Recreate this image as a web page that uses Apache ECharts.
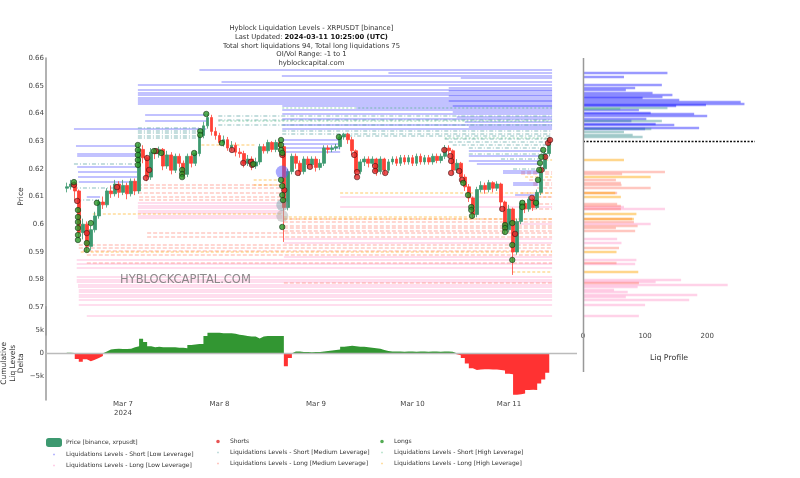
<!DOCTYPE html>
<html><head><meta charset="utf-8">
<script src="https://cdn.jsdelivr.net/npm/echarts@6/dist/echarts.min.js"></script>
<style>html,body{margin:0;padding:0;background:#fff}#c{width:800px;height:478px}</style>
</head><body><div id="c"></div>
<script>
// x values are hours since 2024-03-06 10:00 UTC
const xTickHours = [14, 38, 62, 86, 110];
const xTickLabels = ['Mar 7\n2024', 'Mar 8', 'Mar 9', 'Mar 10', 'Mar 11'];
const profileTicks = [0, 100, 200];

const firstOpen = 0.6130;
const priceClose = [0.6135,0.6145,0.6120,0.5970,0.6000,0.5920,0.5980,0.6030,0.6080,0.6070,
0.6120,0.6110,0.6145,0.6115,0.6140,0.6110,0.6155,0.6120,0.6270,0.6240,
0.6170,0.6260,0.6255,0.6270,0.6210,0.6250,0.6195,0.6245,0.6220,0.6180,
0.6245,0.6220,0.6255,0.6320,0.6355,0.6385,0.6335,0.6320,0.6295,0.6305,
0.6275,0.6285,0.6260,0.6255,0.6220,0.6235,0.6210,0.6225,0.6280,0.6265,
0.6295,0.6270,0.6295,0.6280,0.6060,0.6190,0.6245,0.6220,0.6190,0.6235,
0.6215,0.6235,0.6205,0.6220,0.6275,0.6270,0.6275,0.6280,0.6315,0.6325,
0.6305,0.6265,0.6190,0.6225,0.6235,0.6220,0.6235,0.6190,0.6235,0.6195,
0.6225,0.6235,0.6220,0.6240,0.6225,0.6240,0.6220,0.6245,0.6225,0.6240,
0.6225,0.6245,0.6230,0.6245,0.6275,0.6265,0.6195,0.6220,0.6170,0.6135,
0.6095,0.6035,0.6125,0.6140,0.6125,0.6150,0.6130,0.6145,0.6080,0.5980,
0.6055,0.5900,0.6010,0.6075,0.6055,0.6090,0.6060,0.6115,0.6200,0.6255,
0.6310];
const priceLow = [0.6115,0.6125,0.6085,0.5950,0.5945,0.5900,0.5905,0.5970,0.6020,0.6055,
0.6060,0.6095,0.6100,0.6095,0.6105,0.6090,0.6100,0.6105,0.6110,0.6220,
0.6155,0.6160,0.6235,0.6240,0.6195,0.6200,0.6180,0.6185,0.6205,0.6165,
0.6170,0.6205,0.6210,0.6245,0.6310,0.6345,0.6320,0.6305,0.6285,0.6280,
0.6265,0.6265,0.6245,0.6240,0.6205,0.6210,0.6195,0.6200,0.6215,0.6255,
0.6255,0.6260,0.6260,0.6265,0.5936,0.6050,0.6180,0.6200,0.6175,0.6180,
0.6200,0.6205,0.6190,0.6195,0.6210,0.6255,0.6260,0.6265,0.6270,0.6305,
0.6290,0.6250,0.6170,0.6180,0.6210,0.6205,0.6210,0.6175,0.6180,0.6180,
0.6185,0.6215,0.6210,0.6210,0.6215,0.6215,0.6210,0.6210,0.6215,0.6215,
0.6215,0.6215,0.6220,0.6220,0.6235,0.6250,0.6180,0.6185,0.6155,0.6120,
0.6080,0.6020,0.6025,0.6115,0.6110,0.6115,0.6115,0.6120,0.6050,0.5965,
0.5970,0.5817,0.5890,0.6000,0.6040,0.6045,0.6048,0.6055,0.6105,0.6190,
0.6245];
const priceHigh = [0.6150,0.6160,0.6155,0.6125,0.6020,0.6010,0.5995,0.6045,0.6090,0.6100,
0.6130,0.6140,0.6160,0.6155,0.6160,0.6150,0.6165,0.6165,0.6290,0.6285,
0.6250,0.6275,0.6275,0.6280,0.6275,0.6265,0.6260,0.6255,0.6255,0.6230,
0.6255,0.6255,0.6265,0.6335,0.6370,0.6398,0.6395,0.6350,0.6330,0.6320,
0.6315,0.6300,0.6295,0.6275,0.6265,0.6250,0.6245,0.6240,0.6290,0.6290,
0.6305,0.6300,0.6305,0.6305,0.6285,0.6200,0.6255,0.6255,0.6230,0.6245,
0.6245,0.6245,0.6245,0.6235,0.6285,0.6285,0.6285,0.6290,0.6325,0.6330,
0.6330,0.6315,0.6270,0.6235,0.6245,0.6245,0.6245,0.6240,0.6245,0.6240,
0.6235,0.6245,0.6245,0.6250,0.6250,0.6250,0.6250,0.6255,0.6255,0.6250,
0.6250,0.6255,0.6255,0.6255,0.6286,0.6285,0.6270,0.6235,0.6225,0.6180,
0.6145,0.6100,0.6135,0.6155,0.6150,0.6160,0.6155,0.6155,0.6150,0.6085,
0.6070,0.6060,0.6020,0.6085,0.6085,0.6100,0.6095,0.6125,0.6210,0.6265,
0.6315];

const shortsPoints = [[1.8,0.6142],[2.6,0.6084],[5.0,0.5968],[12.5,0.6134],[19.7,0.6167],[20.0,0.6239],[20.5,0.6196],[22.2,0.6264],
[41.1,0.6268],[43.9,0.6221],[45.8,0.6225],[46.1,0.6214],[53.6,0.6250],[54.1,0.6123],[57.5,0.6185],[60.5,0.6207],
[71.5,0.6250],[72.2,0.6188],[72.2,0.6170],[76.7,0.6210],[76.7,0.6192],[79.2,0.6185],[93.9,0.6268],[95.4,0.6246],
[95.6,0.6228],[95.6,0.6185],[97.6,0.6192],[98.3,0.6160],[108.3,0.6055],[111.5,0.5965],[115.7,0.6095],[118.0,0.6196],
[119.0,0.6243],[119.7,0.6293],[120.2,0.6304]];
const longsPoints = [[1.8,0.6152],[2.8,0.6051],[2.8,0.6026],[2.8,0.6008],[2.8,0.5986],[2.8,0.5961],[2.8,0.5943],[5.0,0.5932],[5.0,0.5907],
[6.0,0.6004],[7.5,0.6077],[17.7,0.6286],[17.7,0.6268],[17.7,0.6250],[17.7,0.6232],[17.7,0.6214],[21.7,0.6264],[23.5,0.6257],
[28.7,0.6196],[28.7,0.6181],[28.7,0.6170],[31.7,0.6257],[33.2,0.6336],[33.2,0.6322],[34.7,0.6398],[38.6,0.6293],[46.4,0.6217],
[53.3,0.6304],[53.3,0.6286],[53.3,0.6268],[53.6,0.6257],[53.3,0.6160],[53.6,0.6138],[53.6,0.6105],[53.8,0.6087],[53.6,0.5990],
[67.7,0.6315],[98.6,0.6149],[99.8,0.6105],[100.6,0.6062],[100.6,0.6051],[100.8,0.6030],[109.0,0.5997],[109.0,0.5986],[109.0,0.5972],
[110.8,0.6004],[110.8,0.5925],[110.8,0.5871],[113.3,0.6077],[113.3,0.6062],[116.7,0.6077],[117.2,0.6160],[117.5,0.6196],
[117.7,0.6221],[118.0,0.6243],[118.5,0.6268]];
const bigEvents = [[53.6,0.6188],[53.6,0.6069],[53.6,0.6030]];

// liquidation levels: [startHour, endHour, price]
const shortLowLevels = [[1.8,34.7,0.6344],[2.3,17.5,0.6282],[2.6,17.5,0.6253],[2.6,17.5,0.6246],[2.6,17.5,0.6207],[2.8,17.5,0.6188],
[2.8,17.5,0.6170],[3.0,17.5,0.6152],[5.0,8.3,0.6098],
[17.7,120.7,0.6503],[17.7,120.7,0.6485],[17.7,120.7,0.6474],[17.7,120.7,0.6466],[17.7,120.7,0.6458],[17.7,120.7,0.6450],
[17.7,120.7,0.6442],[17.7,120.7,0.6434],[19.5,34.7,0.6394],[19.5,34.7,0.6372],
[33,120.7,0.6557],[38.5,120.7,0.6514],[53.5,120.7,0.6535],[80,120.7,0.6546],[98,120.7,0.6528],
[53.6,120.7,0.6426],[53.6,120.7,0.6413],[53.6,120.7,0.6400],[53.6,120.7,0.6380],[53.6,120.7,0.6360],[53.6,120.7,0.6345],
[53.6,68,0.6305],[53.6,68,0.6290],[53.6,68,0.6275],[53.6,68,0.6262],
[72,120.7,0.6420],[95,120.7,0.6492],[95,120.7,0.6480],[95,120.7,0.6462],[95,120.7,0.6445],[96,120.7,0.6428],
[96,120.7,0.6405],[97,120.7,0.6387],[99,120.7,0.6370],[100,120.7,0.6352],
[100,118.5,0.6264],[100,118.5,0.6248],[100,118,0.6228],[102,118,0.6217],[108.5,117.5,0.6192],[108.5,117.5,0.6185],
[111,117.3,0.6150],[111,117.3,0.6143],[111.5,117,0.6105]];
const shortMediumLevels = [[1.8,17.5,0.6220],[1.8,17.5,0.6131],[2.6,7.5,0.6087],
[17.7,33,0.6347],[17.7,33,0.6338],[17.7,33.2,0.6329],[17.7,33.2,0.6320],[17.7,33.2,0.6311],
[37.7,120.7,0.6391],[37.7,120.7,0.6376],[37.7,120.7,0.6358],[53.6,120.7,0.6336],[53.6,120.7,0.6325],
[70,120.7,0.6318],[94,120.7,0.6307],[95,120.7,0.6298],[96,120.7,0.6286],[100,118.5,0.6275],[100,118.5,0.6255],
[108,118,0.6235],[111,117.5,0.6200]];
const shortHighLevels = [[53.6,120.7,0.6422],[37.7,120.7,0.6374],[94,120.7,0.6313]];
const longLowLevels = [[2.5,120.7,0.5871],[2.5,120.7,0.5856],[2.5,120.7,0.5842],[2.5,120.7,0.5809],[2.5,120.7,0.5801],
[2.5,120.7,0.5794],[2.8,120.7,0.5783],[2.8,120.7,0.5774],[3.0,120.7,0.5765],[3.0,120.7,0.5755],[3.0,120.7,0.5747],
[3.0,120.7,0.5738],[3.0,120.7,0.5726],[3.0,120.7,0.5709],[5.0,120.7,0.5671],
[17.7,53.6,0.6077],[17.7,53.6,0.6068],[17.7,53.6,0.6058],[17.7,53.6,0.6049],[17.7,53.6,0.6040],[17.7,53.6,0.6031],[17.7,53.6,0.6022],
[54,120.7,0.5946],[54,120.7,0.5933],[54,120.7,0.5882],[68,120.7,0.6100],[68,120.7,0.6063],[110.8,120.7,0.6003]];
const longMediumLevels = [[3.0,120.7,0.5925],[3.0,120.7,0.5914],[4.0,120.7,0.5903],[5.0,120.7,0.5890],[5.0,120.7,0.5862],
[17.7,53.6,0.6142],[17.7,53.6,0.6130],[17.7,53.6,0.6114],[18,53.6,0.6098],[18,53.6,0.6087],
[20,120.7,0.5968],[20,120.7,0.5954],[54,120.7,0.6018],[54,120.7,0.6009],[54,120.7,0.5994],[54,120.7,0.5987],
[54,120.7,0.5977],[54,120.7,0.5790],[113,120.7,0.6190],[113,120.7,0.6181],[115,120.7,0.6160],[116,120.7,0.6150],
[116,120.7,0.6142],[117,120.7,0.6130],[113,120.7,0.6114],[113,120.7,0.6073],[113,120.7,0.6057]];
const longHighLevels = [[3.5,120.7,0.5902],[6.5,53.6,0.6037],[33.5,47,0.6286],[46.5,53.6,0.6160],[46.5,53.6,0.6142],
[54,100.3,0.6026],[54,120.7,0.6019],[68,120.7,0.6112],[110.8,120.7,0.5830],[114,120.7,0.6172],[116,120.7,0.6100],[119,120.7,0.6234]];

// liq profile: [price, count]
const profileShortLow = [[0.6547,136],[0.6532,66],[0.6503,127],[0.6494,84],[0.6487,69],[0.6475,112],[0.6469,144],[0.6460,128],
[0.6455,96],[0.6448,155],[0.6442,254],[0.6436,260],[0.6430,198],[0.6426,150],[0.6415,90],[0.6403,109],[0.6398,179],[0.6391,200],
[0.6381,102],[0.6374,78],[0.6364,117],[0.6358,147],[0.6350,187],[0.6343,100]];
const profileShortMedium = [[0.6422,136],[0.6375,127],[0.6345,110],[0.6334,66],[0.6322,80],[0.6314,96]];
const profileShortHigh = [[0.6418,60]];
const profileLongLow = [[0.6063,66],[0.6056,132],[0.6003,109],[0.5946,55],[0.5933,62],[0.5871,86],[0.5856,84],[0.5801,158],
[0.5794,117],[0.5783,233],[0.5774,88],[0.5765,50],[0.5755,72],[0.5747,184],[0.5738,69],[0.5726,171],[0.5709,100],[0.5671,90]];
const profileLongMedium = [[0.6190,132],[0.6181,63],[0.6160,53],[0.6150,61],[0.6142,62],[0.6130,109],[0.6114,55],[0.6073,55],
[0.6066,61],[0.6057,61],[0.6018,79],[0.6009,82],[0.5994,88],[0.5987,53],[0.5977,84],[0.5914,58],[0.5862,54],[0.5790,90]];
const profileLongHigh = [[0.6234,66],[0.6172,109],[0.6112,52],[0.6100,61],[0.6036,86],[0.6019,82],[0.5902,54],[0.5830,89]];

// cumulative liq levels delta, hourly
const liqDelta = [100,50,-1200,-1800,-1300,-1700,-1400,-1000,-600,400,
800,900,1000,900,900,1000,1300,1500,3100,2400,
1500,1300,1400,1300,1300,1300,1300,1200,1200,1100,
1800,1900,2000,2000,3700,4400,4400,4400,4300,4300,
4300,4200,4000,3900,3700,3600,3600,3200,3600,3700,
3700,3700,3700,3700,-2800,-1000,400,400,300,300,
200,300,300,400,500,600,700,800,1400,1500,
1600,1500,1400,1400,1300,1200,1100,1000,700,500,
400,400,400,350,400,400,350,400,400,350,
400,400,350,400,400,350,-200,-400,-1000,-2200,
-3200,-3600,-3500,-3400,-3400,-3500,-3500,-3600,-3700,-4400,
-4500,-8900,-8800,-8600,-7900,-7800,-7900,-6500,-5600,-4200,-1800];

const N = {
  price: 'Price [binance, xrpusdt]', shorts: 'Shorts', longs: 'Longs',
  sl: 'Liquidations Levels - Short [Low Leverage]', sm: 'Liquidations Levels - Short [Medium Leverage]', sh: 'Liquidations Levels - Short [High Leverage]',
  ll: 'Liquidations Levels - Long [Low Leverage]', lm: 'Liquidations Levels - Long [Medium Leverage]', lh: 'Liquidations Levels - Long [High Leverage]'
};
const COL = {
  sl: 'rgba(0,0,255,0.32)', sm: 'rgba(70,150,150,0.42)', sh: 'rgba(60,179,113,0.35)',
  ll: 'rgba(255,105,180,0.30)', lm: 'rgba(255,80,60,0.30)', lh: 'rgba(255,165,0,0.40)'
};
const PCOL = {
  sl: 'rgba(0,0,255,0.40)', sm: 'rgba(70,150,150,0.45)', sh: 'rgba(60,179,113,0.4)',
  ll: 'rgba(255,105,180,0.30)', lm: 'rgba(255,80,60,0.32)', lh: 'rgba(255,165,0,0.45)'
};

const candles = priceClose.map((c, i) => [i, i === 0 ? firstOpen : priceClose[i - 1], c, priceLow[i], priceHigh[i]]);
const deltaHours = liqDelta.map((v, i) => i);

function levelSeries(key, levels, dash) {
  return {
    type: 'lines', name: N[key], coordinateSystem: 'cartesian2d', xAxisIndex: 0, yAxisIndex: 0,
    silent: true, z: 1,
    lineStyle: { color: COL[key], width: 1.6, type: dash, opacity: 1 },
    data: levels.map(l => ({ coords: [[l[0], l[2]], [l[1], l[2]]] }))
  };
}
function profileSeries(key, prof) {
  return {
    type: 'lines', name: N[key], coordinateSystem: 'cartesian2d', xAxisIndex: 1, yAxisIndex: 1,
    silent: true, z: 2,
    lineStyle: { color: PCOL[key], width: 2.4, opacity: 1 },
    data: prof.map(p => ({ coords: [[0, p[0]], [p[1], p[0]]] }))
  };
}

const FONT = 'DejaVu Sans';
const chart = echarts.init(document.getElementById('c'), null, { renderer: 'canvas' });
const legendText = { fontSize: 6, color: '#333', fontFamily: FONT };
const tinyDot = 'path://M0,0L0.01,0M6.2,2.7L7.8,2.7L7.8,4.3L6.2,4.3ZM14,7L13.99,7';
const smallDot = 'path://M0,0L0.01,0M5.2,3.5A1.8,1.8,0,1,0,8.8,3.5A1.8,1.8,0,1,0,5.2,3.5ZM14,7L13.99,7';
function legendItem(key, color, icon) {
  if (color) return { name: N[key], icon: icon || tinyDot, itemStyle: { color: color, borderWidth: 0 } };
  return { name: N[key] };
}
function legendBox(left, items) {
  return { orient: 'vertical', left: left, top: 438, padding: 0, itemWidth: 14, itemHeight: 7, itemGap: 4,
    textStyle: legendText, selectedMode: false, data: items };
}

chart.setOption({
  animation: false,
  backgroundColor: '#fff',
  textStyle: { fontFamily: FONT },
  title: {
    left: 'center', top: 19, textAlign: 'center',
    text: 'Hyblock Liquidation Levels - XRPUSDT [binance]\nLast Updated: {b|2024-03-11 10:25:00 (UTC)}\nTotal short liquidations 94, Total long liquidations 75\nOI/Vol Range: -1 to 1\nhyblockcapital.com',
    textStyle: { fontSize: 6.8, lineHeight: 8.7, color: '#333', fontWeight: 'normal', fontFamily: FONT,
      rich: { b: { fontWeight: 'bold', fontSize: 6.8, lineHeight: 8.7, color: '#111', fontFamily: FONT } } }
  },
  legend: [
    legendBox(46, [legendItem('price'), legendItem('sl', 'rgba(0,0,255,0.35)'), legendItem('ll', 'rgba(255,105,180,0.4)')]),
    legendBox(211, [legendItem('shorts', 'rgb(225,40,40)', smallDot), legendItem('sm', 'rgba(70,150,150,0.4)'), legendItem('lm', 'rgba(255,80,60,0.4)')]),
    legendBox(375, [legendItem('longs', 'rgb(40,150,40)', smallDot), legendItem('sh', 'rgba(60,179,113,0.4)'), legendItem('lh', 'rgba(255,165,0,0.45)')])
  ],
  grid: [
    { left: 46, top: 58, width: 531, height: 277, outerBoundsMode: 'none' },
    { left: 583, top: 58, width: 172, height: 269, outerBoundsMode: 'none' },
    { left: 46, top: 306.7, width: 531, height: 93.2, outerBoundsMode: 'none' }
  ],
  xAxis: [
    { type: 'value', gridIndex: 0, min: -5.15, max: 126.9, show: false },
    { type: 'value', gridIndex: 1, min: 0, max: 277,
      axisLine: { show: false, onZero: false }, axisTick: { show: false }, splitLine: { show: false },
      axisLabel: { fontSize: 7, color: '#444', margin: 6, customValues: profileTicks },
      name: 'Liq Profile', nameLocation: 'middle', nameGap: 27, nameMoveOverlap: false, nameTextStyle: { fontSize: 7.8, color: '#333' } },
    { type: 'value', gridIndex: 2, min: -5.15, max: 126.9,
      axisLine: { show: false, onZero: false }, axisTick: { show: false }, splitLine: { show: false },
      axisLabel: { fontSize: 7, color: '#444', margin: 0, lineHeight: 9, customValues: xTickHours,
        formatter: v => { const k = xTickHours.indexOf(Math.round(v)); return k >= 0 ? xTickLabels[k] : ''; } } }
  ],
  yAxis: [
    { type: 'value', gridIndex: 0, min: 0.56, max: 0.66, interval: 0.01,
      axisLine: { show: true, onZero: false, lineStyle: { color: '#999', width: 1.5 } }, axisTick: { show: false }, splitLine: { show: false },
      axisLabel: { fontSize: 7, color: '#444', margin: 2, formatter: v => v < 0.565 ? '' : String(+v.toFixed(2)) },
      name: 'Price', nameLocation: 'middle', nameGap: 21, nameMoveOverlap: false, nameTextStyle: { fontSize: 7.5, color: '#333' } },
    { type: 'value', gridIndex: 1, min: 0.5629, max: 0.66, show: false },
    { type: 'value', gridIndex: 2, min: -10000, max: 10000, interval: 5000,
      axisLine: { show: true, onZero: false, lineStyle: { color: '#999', width: 1.5 } }, axisTick: { show: false }, splitLine: { show: false },
      axisLabel: { fontSize: 7, color: '#444', margin: 2,
        formatter: v => Math.abs(v) >= 10000 ? '' : (v === 0 ? '0' : (v < 0 ? '\u2212' : '') + Math.abs(v) / 1000 + 'k') },
      name: 'Cumulative\nLiq Levels\nDelta', nameLocation: 'middle', nameGap: 21, nameMoveOverlap: false,
      nameTextStyle: { fontSize: 7.5, color: '#333', lineHeight: 8.3, padding: [0, 20, 0, 0] } }
  ],
  graphic: [
    { type: 'line', z: 10, shape: { x1: 583.5, y1: 58, x2: 583.5, y2: 372 }, style: { stroke: '#999', lineWidth: 1.5 } },
    { type: 'text', z: 100, left: 120, top: 274, style: { text: 'HYBLOCKCAPITAL.COM', fontSize: 11.5, fontFamily: FONT, fill: 'rgba(110,110,110,0.8)' } }
  ],
  series: [
    levelSeries('ll', longLowLevels, 'solid'),
    levelSeries('lm', longMediumLevels, [4, 2]),
    levelSeries('lh', longHighLevels, [3, 2]),
    levelSeries('sl', shortLowLevels, 'solid'),
    levelSeries('sm', shortMediumLevels, [4, 2, 1, 2]),
    levelSeries('sh', shortHighLevels, [2, 2]),
    { type: 'candlestick', name: N.price, xAxisIndex: 0, yAxisIndex: 0, z: 5, data: candles,
      encode: { x: 0, y: [1, 2, 3, 4] }, barWidth: 3.3,
      itemStyle: { color: '#3D9970', color0: '#FF4136', borderColor: '#3D9970', borderColor0: '#FF4136', borderWidth: 0.8 } },
    { type: 'scatter', name: '', xAxisIndex: 0, yAxisIndex: 0, z: 6, data: bigEvents, symbolSize: (v, p) => p.dataIndex === 0 ? 13 : 12,
      itemStyle: { color: p => ['rgba(90,90,255,0.65)', 'rgba(120,160,170,0.6)', 'rgba(170,170,170,0.6)'][p.dataIndex] } },
    { type: 'scatter', name: N.shorts, xAxisIndex: 0, yAxisIndex: 0, z: 7, data: shortsPoints, symbolSize: 5.5,
      itemStyle: { color: 'rgb(225,40,40)', borderColor: '#3a1010', borderWidth: 0.7 } },
    { type: 'scatter', name: N.longs, xAxisIndex: 0, yAxisIndex: 0, z: 7, data: longsPoints, symbolSize: 5.5,
      itemStyle: { color: 'rgb(40,150,40)', borderColor: '#102a10', borderWidth: 0.7 } },
    profileSeries('ll', profileLongLow),
    profileSeries('lm', profileLongMedium),
    profileSeries('lh', profileLongHigh),
    profileSeries('sl', profileShortLow),
    profileSeries('sm', profileShortMedium),
    profileSeries('sh', profileShortHigh),
    { type: 'scatter', name: '', xAxisIndex: 1, yAxisIndex: 1, data: [], silent: true,
      markLine: { silent: true, symbol: 'none', label: { show: false },
        lineStyle: { color: '#111', type: [2, 1.5], width: 1.3 }, data: [{ yAxis: priceClose[priceClose.length - 1] }] } },
    { type: 'line', name: '', xAxisIndex: 2, yAxisIndex: 2, step: 'end', symbol: 'none', z: 3,
      data: liqDelta.map((v, i) => [deltaHours[i], Math.max(v, 0)]),
      lineStyle: { width: 0 }, areaStyle: { color: 'rgb(50,150,50)', opacity: 1 },
      markLine: { silent: true, symbol: 'none', label: { show: false }, lineStyle: { color: '#bbb', type: 'solid', width: 1.3 }, data: [{ yAxis: 0 }] } },
    { type: 'line', name: '', xAxisIndex: 2, yAxisIndex: 2, step: 'end', symbol: 'none', z: 3,
      data: liqDelta.map((v, i) => [deltaHours[i], Math.min(v, 0)]),
      lineStyle: { width: 0 }, areaStyle: { color: 'rgb(255,50,50)', opacity: 1 } }
  ]
});
</script>
</body></html>
